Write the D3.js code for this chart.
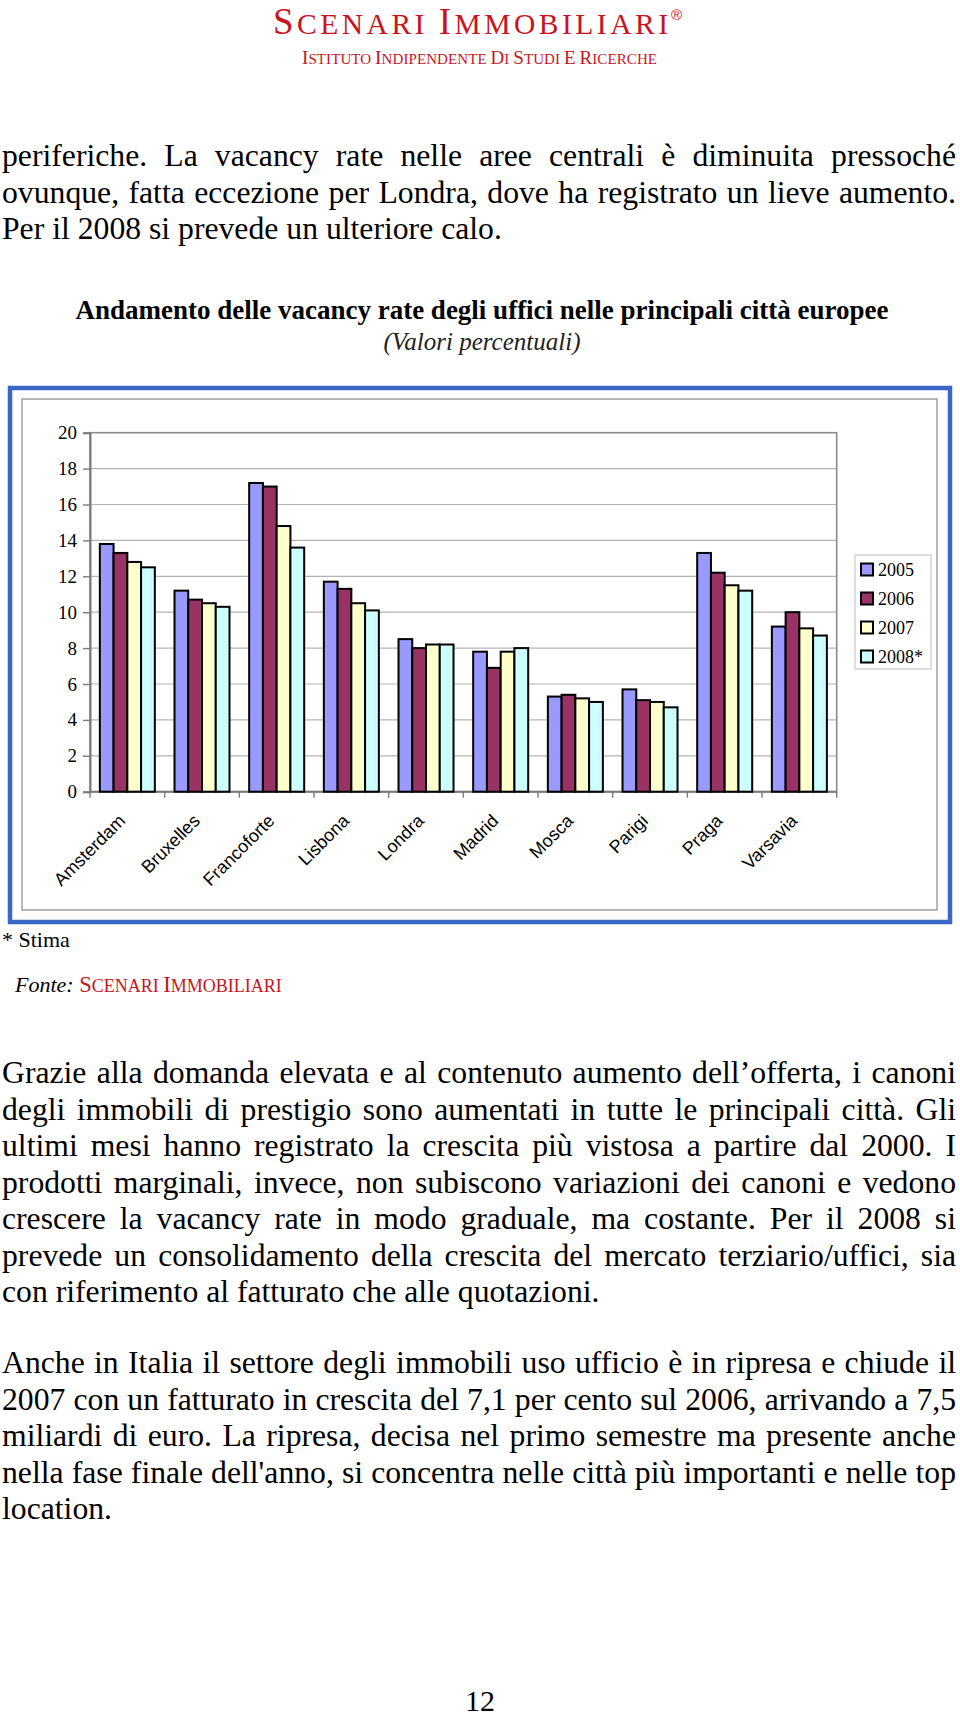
<!DOCTYPE html>
<html>
<head>
<meta charset="utf-8">
<script src="https://cdn.jsdelivr.net/npm/d3@7"></script>
<style>
  html, body { margin: 0; padding: 0; background: #ffffff; }
  svg { display: block; }
</style>
</head>
<body>
<svg id="page" width="960" height="1720"></svg>
<script>
// ---------------- DATA ----------------
const cities = ["Amsterdam", "Bruxelles", "Francoforte", "Lisbona", "Londra", "Madrid", "Mosca", "Parigi", "Praga", "Varsavia"];
const years = ["2005", "2006", "2007", "2008*"];
const v2005 = [13.8, 11.2, 17.2, 11.7, 8.5, 7.8, 5.3, 5.7, 13.3, 9.2];
const v2006 = [13.3, 10.7, 17.0, 11.3, 8.0, 6.9, 5.4, 5.1, 12.2, 10.0];
const v2007 = [12.8, 10.5, 14.8, 10.5, 8.2, 7.8, 5.2, 5.0, 11.5, 9.1];
const v2008 = [12.5, 10.3, 13.6, 10.1, 8.2, 8.0, 5.0, 4.7, 11.2, 8.7];
const yTicks = [0, 2, 4, 6, 8, 10, 12, 14, 16, 18, 20];
const seriesColors = ["#9999FF", "#993366", "#FFFFCC", "#CCFFFF"];

const titleText = "Andamento delle vacancy rate degli uffici nelle principali città europee";
const subtitleText = "(Valori percentuali)";

const para1 = [
  "periferiche. La vacancy rate nelle aree centrali è diminuita pressoché",
  "ovunque, fatta eccezione per Londra, dove ha registrato un lieve aumento.",
  "Per il 2008 si prevede un ulteriore calo."
];
const para2 = [
  "Grazie alla domanda elevata e al contenuto aumento dell’offerta, i canoni",
  "degli immobili di prestigio sono aumentati in tutte le principali città. Gli",
  "ultimi mesi hanno registrato la crescita più vistosa a partire dal 2000. I",
  "prodotti marginali, invece, non subiscono variazioni dei canoni e vedono",
  "crescere la vacancy rate in modo graduale, ma costante. Per il 2008 si",
  "prevede un consolidamento della crescita del mercato terziario/uffici, sia",
  "con riferimento al fatturato che alle quotazioni."
];
const para3 = [
  "Anche in Italia il settore degli immobili uso ufficio è in ripresa e chiude il",
  "2007 con un fatturato in crescita del 7,1 per cento sul 2006, arrivando a 7,5",
  "miliardi di euro. La ripresa, decisa nel primo semestre ma presente anche",
  "nella fase finale dell'anno, si  concentra nelle città più importanti e nelle top",
  "location."
];

// ---------------- PAGE ----------------
const svg = d3.select("#page");
svg.append("rect").attr("width", 960).attr("height", 1720).attr("fill", "#fff");

const SERIF = "'Liberation Serif', 'Times New Roman', Times, serif";
const SANS = "'Liberation Sans', Arial, Helvetica, sans-serif";
const RED = "#c8141e";

// small-caps helper: first letters at size F, the rest uppercase at size s
function smallCaps(textSel, str, F, s) {
  str.split(" ").forEach((word, wi) => {
    if (wi > 0) textSel.append("tspan").attr("font-size", s).text("\u00a0");
    textSel.append("tspan").attr("font-size", F).text(word[0].toUpperCase());
    if (word.length > 1) textSel.append("tspan").attr("font-size", s).text(word.slice(1).toUpperCase());
  });
}

// header
const h1 = svg.append("text").attr("x", 273).attr("y", 34)
  .style("font-family", SERIF).attr("fill", RED)
  .attr("textLength", 395).attr("lengthAdjust", "spacing");
smallCaps(h1, "Scenari Immobiliari", 37, 29.5);
svg.append("text").attr("x", 671).attr("y", 20).style("font-family", SANS)
  .attr("font-size", 15).attr("fill", RED).text("®");

const h2 = svg.append("text").attr("x", 302).attr("y", 64)
  .style("font-family", SERIF).attr("fill", RED)
  .attr("textLength", 355).attr("lengthAdjust", "spacing");
smallCaps(h2, "Istituto indipendente di studi e ricerche", 19, 15);

// justified paragraph lines
const FS = 31.7, LEFT = 2, RIGHT = 956, LH = 36.5;
function drawPara(lines, firstBaseline) {
  lines.forEach((line, i) => {
    const y = firstBaseline + i * LH;
    const last = i === lines.length - 1;
    const t = svg.append("text").attr("y", y).style("font-family", SERIF)
      .attr("font-size", FS).attr("fill", "#000");
    const words = line.split(/\s+/);
    const spans = words.map(w => t.append("tspan").text(w));
    const widths = spans.map(s => s.node().getComputedTextLength());
    const sum = d3.sum(widths);
    let gap = FS * 0.25;
    if (!last) {
      gap = (RIGHT - LEFT - sum) / (words.length - 1);
    }
    if (gap < FS * 0.17) {
      t.selectAll("tspan").remove();
      t.attr("x", LEFT).text(line).attr("textLength", RIGHT - LEFT)
        .attr("lengthAdjust", "spacingAndGlyphs");
      return;
    }
    let x = LEFT;
    spans.forEach((s, k) => { s.attr("x", x); x += widths[k] + gap; });
  });
}
drawPara(para1, 166);
drawPara(para2, 1083);
drawPara(para3, 1373);

// titles
svg.append("text").attr("x", 482).attr("y", 319).attr("text-anchor", "middle")
  .style("font-family", SERIF).attr("font-weight", "bold").attr("font-size", 27)
  .text(titleText);
svg.append("text").attr("x", 482).attr("y", 350).attr("text-anchor", "middle")
  .style("font-family", SERIF).attr("font-style", "italic").attr("font-size", 25)
  .attr("fill", "#222").text(subtitleText);

// frames
svg.append("rect").attr("x", 10).attr("y", 388).attr("width", 940).attr("height", 534)
  .attr("fill", "none").attr("stroke", "#3a67c4").attr("stroke-width", 4.5);
svg.append("rect").attr("x", 22).attr("y", 399).attr("width", 915).attr("height", 511)
  .attr("fill", "#fff").attr("stroke", "#a0a0a0").attr("stroke-width", 1.5);

// ---------------- CHART ----------------
const plot = { left: 90, right: 836.7, top: 432.7, bottom: 791.7 };
const x0 = d3.scaleBand().domain(cities).range([plot.left, plot.right])
  .paddingInner(0.2634).paddingOuter(0.1317);
const x1 = d3.scaleBand().domain(years).range([0, x0.bandwidth()]);
const y = d3.scaleLinear().domain([0, 20]).range([plot.bottom, plot.top]);

const chart = svg.append("g");

// gridlines
chart.append("g").selectAll("line").data(yTicks.filter(d => d > 0 && d < 20)).join("line")
  .attr("x1", plot.left).attr("x2", plot.right)
  .attr("y1", d => y(d)).attr("y2", d => y(d))
  .attr("stroke", "#b4b4b4").attr("stroke-width", 1.2);

// plot border
chart.append("rect").attr("x", plot.left).attr("y", plot.top)
  .attr("width", plot.right - plot.left).attr("height", plot.bottom - plot.top)
  .attr("fill", "none").attr("stroke", "#8a8a8a").attr("stroke-width", 1.6);

// y axis
const yAxis = chart.append("g").attr("transform", `translate(${plot.left},0)`)
  .call(d3.axisLeft(y).tickValues(yTicks).tickSize(7).tickPadding(6));
yAxis.attr("font-family", null).attr("font-size", null);
yAxis.select(".domain").attr("stroke", "#7a7a7a").attr("stroke-width", 2);
yAxis.selectAll(".tick line").attr("stroke", "#7a7a7a").attr("stroke-width", 1.4);
yAxis.selectAll(".tick text").style("font-family", SERIF).style("font-size", "19px")
  .attr("fill", "#000");

// x axis line + ticks at category boundaries
const step = x0.step();
const boundaries = cities.map(c => x0(c) - (step - x0.bandwidth()) / 2).concat([plot.right]);
chart.append("line").attr("x1", plot.left).attr("x2", plot.right)
  .attr("y1", plot.bottom).attr("y2", plot.bottom)
  .attr("stroke", "#7a7a7a").attr("stroke-width", 2);
chart.append("g").selectAll("line").data(boundaries).join("line")
  .attr("x1", d => d).attr("x2", d => d)
  .attr("y1", plot.bottom).attr("y2", plot.bottom + 6)
  .attr("stroke", "#7a7a7a").attr("stroke-width", 1.4);

// bars
const allSeries = [v2005, v2006, v2007, v2008];
const groups = chart.append("g").selectAll("g").data(cities).join("g")
  .attr("transform", c => `translate(${x0(c)},0)`);
groups.selectAll("rect").data((c, i) => years.map((yr, k) => ({ yr, k, v: allSeries[k][i] })))
  .join("rect")
  .attr("x", d => x1(d.yr)).attr("width", x1.bandwidth())
  .attr("y", d => y(d.v)).attr("height", d => y(0) - y(d.v))
  .attr("fill", d => seriesColors[d.k]).attr("stroke", "#000").attr("stroke-width", 2);

// category labels
chart.append("g").selectAll("text").data(cities).join("text")
  .attr("transform", c => `translate(${x0(c) + x0.bandwidth() / 2 - 1},822) rotate(-45)`)
  .attr("text-anchor", "end").style("font-family", SANS).attr("font-size", 18)
  .attr("fill", "#000").text(c => c);

// legend
const lg = chart.append("g");
lg.append("rect").attr("x", 855).attr("y", 555).attr("width", 76).attr("height", 114)
  .attr("fill", "#fff").attr("stroke", "#c8c8c8").attr("stroke-width", 1.2);
const ly = d3.scalePoint().domain(years).range([569.5, 656.5]);
const items = lg.selectAll("g").data(years).join("g")
  .attr("transform", d => `translate(861,${ly(d)})`);
items.append("rect").attr("x", 0).attr("y", -6).attr("width", 12).attr("height", 12)
  .attr("fill", (d, i) => seriesColors[i]).attr("stroke", "#000").attr("stroke-width", 2);
items.append("text").attr("x", 17).attr("y", 6).style("font-family", SERIF)
  .attr("font-size", 18).attr("fill", "#000").text(d => d);

// notes
svg.append("text").attr("x", 2).attr("y", 947).style("font-family", SERIF)
  .attr("font-size", 22).attr("fill", "#000").text("* Stima");
const fonte = svg.append("text").attr("x", 15).attr("y", 992).style("font-family", SERIF).attr("fill", RED);
fonte.append("tspan").attr("font-style", "italic").attr("font-size", 22).attr("fill", "#000").text("Fonte:\u00a0");
smallCaps(fonte, "Scenari Immobiliari", 22.5, 18);

// page number
svg.append("text").attr("x", 480).attr("y", 1711).attr("text-anchor", "middle")
  .style("font-family", SERIF).attr("font-size", 30).attr("fill", "#000").text("12");
</script>
</body>
</html>
